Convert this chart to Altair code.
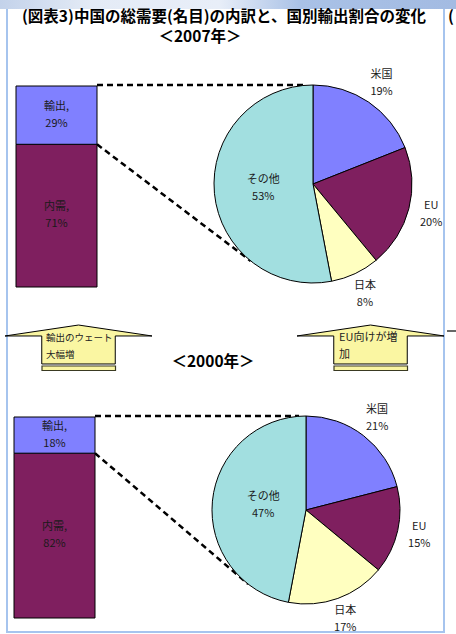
import math

import altair as alt
import pandas as pd

# Breakdown of China's nominal aggregate demand (%)
DEMAND_CATS = ["内需", "輸出"]
DEMAND_2007 = [71, 29]
DEMAND_2000 = [82, 18]

# Export shares by destination (%)
DEST_CATS = ["米国", "EU", "日本", "その他"]
DEST_2007 = [19, 20, 8, 53]
DEST_2000 = [21, 15, 17, 47]

TITLE = "(図表3)中国の総需要(名目)の内訳と、国別輸出割合の変化"
YEAR_LABELS = ["＜2007年＞", "＜2000年＞"]
ARROW_NOTES = ["輸出のウェート\n大幅増", "EU向けが増\n加"]

FONT = "Noto Sans CJK JP"
TEXT_COLOR = "#1a1a1a"
COLOR_SCALE = alt.Scale(
    domain=["輸出", "内需", "米国", "EU", "日本", "その他"],
    range=["#8080ff", "#7f1f5f", "#8080ff", "#7f1f5f", "#ffffc0", "#a2dfe0"],
)
THETA_SCALE = alt.Scale(domain=[0, 100])
FRAME = "#a6c4ee"
ARROW_FILL = "#faf6a2"
LINE_H = 17
# two-line labels: shift up by half a line so the block is centred
TWO_LINE = dict(lineBreak="\n", lineHeight=LINE_H, baseline="middle", dy=-LINE_H / 2)

# Block arrow, drawn in the unit square [-1, 1]
ARROW_PATH = ("M -1 -0.116 L 0 -0.265 L 1 -0.116 L 0.5 -0.116 L 0.5 0.265 "
              "L -0.5 0.265 L -0.5 -0.116 Z")


def one(text):
    return pd.DataFrame({"t": [text]})


def stacked(df):
    return alt.Chart(df).transform_stack(
        stack="share", groupby=[], as_=["s0", "s1"],
        sort=[alt.SortField("ord", order="ascending")],
    ).transform_calculate(mid="(datum.s0 + datum.s1) / 2")


def panel(demand, dest, lay):
    x0, x1 = lay["bar_x"]
    top, bottom = lay["bar_y"]
    cx, cy = lay["pie"]
    r = lay["r"]
    yscale = alt.Scale(domain=[0, 100], range=[bottom, top])

    bar_df = pd.DataFrame({"cat": DEMAND_CATS, "share": demand, "ord": list(range(len(demand)))})
    bar_df["label"] = [f"{c},\n{v}%" for c, v in zip(DEMAND_CATS, demand)]
    pie_df = pd.DataFrame({"cat": DEST_CATS, "share": dest, "ord": list(range(len(dest)))})
    pie_df["label"] = [f"{c}\n{v}%" for c, v in zip(DEST_CATS, dest)]

    # connector lines from the export segment to the pie
    export_share = demand[DEMAND_CATS.index("輸出")]
    split_y = top + export_share / 100 * (bottom - top)
    a = math.radians(lay["conn_angle"])
    ex, ey = cx + r * math.sin(a), cy - r * math.cos(a)
    dash = dict(color="black", strokeWidth=2.5, strokeDash=[6, 4])
    conn_top = alt.Chart(one("")).mark_rule(**dash).encode(
        x=alt.value(x1), x2=alt.value(cx - 7), y=alt.value(top - 1), y2=alt.value(top - 1))
    conn_diag = alt.Chart(one("")).mark_rule(**dash).encode(
        x=alt.value(x1), x2=alt.value(ex), y=alt.value(split_y), y2=alt.value(ey))

    bars = stacked(bar_df).mark_rect(stroke="black", strokeWidth=1).encode(
        x=alt.value(x0), x2=alt.value(x1),
        y=alt.Y("s0:Q", scale=yscale, axis=None), y2="s1:Q",
        color=alt.Color("cat:N", scale=COLOR_SCALE, legend=None),
    )
    bar_text = stacked(bar_df).mark_text(
        font=FONT, fontSize=11, color=TEXT_COLOR, **TWO_LINE
    ).encode(
        x=alt.value((x0 + x1) / 2),
        y=alt.Y("mid:Q", scale=yscale, axis=None),
        text="label:N",
    )

    arcs = stacked(pie_df).mark_arc(radius=r, stroke="black", strokeWidth=1).encode(
        theta=alt.Theta("s0:Q", scale=THETA_SCALE, stack=False), theta2="s1:Q",
        color=alt.Color("cat:N", scale=COLOR_SCALE, legend=None),
        x=alt.value(cx), y=alt.value(cy),
    )
    txt = dict(font=FONT, fontSize=11, color=TEXT_COLOR, **TWO_LINE)
    outer = stacked(pie_df).transform_filter(alt.datum.cat != "その他").mark_text(
        radius=lay["label_r"], **txt).encode(
        theta=alt.Theta("mid:Q", scale=THETA_SCALE, stack=False), text="label:N",
        x=alt.value(cx), y=alt.value(cy))
    inner = stacked(pie_df).transform_filter(alt.datum.cat == "その他").mark_text(
        radius=lay["inner_r"], **txt).encode(
        theta=alt.Theta("mid:Q", scale=THETA_SCALE, stack=False), text="label:N",
        x=alt.value(cx), y=alt.value(cy))

    return [conn_top, conn_diag, bars, bar_text, arcs, outer, inner]


L2007 = dict(bar_x=(16, 97), bar_y=(86, 287), pie=(313, 184), r=99,
             label_r=122, inner_r=50, conn_angle=219)
L2000 = dict(bar_x=(14, 95), bar_y=(417, 618), pie=(306, 510), r=94,
             label_r=116, inner_r=43, conn_angle=218)

# window chrome: gradient band and light frame
band = alt.Chart(one("")).mark_rect(
    color=alt.LinearGradient(
        gradient="linear", x1=0, x2=1, y1=0, y2=0,
        stops=[alt.GradientStop(color="#c3d2ea", offset=0),
               alt.GradientStop(color="#e4ebf6", offset=0.2),
               alt.GradientStop(color="#e8eef8", offset=0.48),
               alt.GradientStop(color="#a9c1e6", offset=0.66),
               alt.GradientStop(color="#a3bbe2", offset=1)])
).encode(x=alt.value(0), x2=alt.value(456), y=alt.value(0), y2=alt.value(9))

frame_rule = dict(color=FRAME, strokeWidth=2)
frame = [
    alt.Chart(one("")).mark_rule(**frame_rule).encode(
        x=alt.value(7), x2=alt.value(7), y=alt.value(9), y2=alt.value(633)),
    alt.Chart(one("")).mark_rule(**frame_rule).encode(
        x=alt.value(444), x2=alt.value(444), y=alt.value(9), y2=alt.value(633)),
    alt.Chart(one("")).mark_rule(**frame_rule).encode(
        x=alt.value(7), x2=alt.value(444), y=alt.value(632), y2=alt.value(632)),
]

title = alt.Chart(one(TITLE)).mark_text(
    font=FONT, fontSize=15.5, fontWeight="bold", color="black", baseline="middle"
).encode(text="t:N", x=alt.value(224), y=alt.value(17))
next_paren = alt.Chart(one("(")).mark_text(
    font=FONT, fontSize=15.5, fontWeight="bold", color="black", align="left", baseline="middle"
).encode(text="t:N", x=alt.value(448), y=alt.value(17))
next_dash = alt.Chart(one("")).mark_rule(color="black", strokeWidth=1.2).encode(
    x=alt.value(447), x2=alt.value(456), y=alt.value(331), y2=alt.value(331))

year_pos = [(200, 37), (213, 362)]
years = [
    alt.Chart(one(t)).mark_text(
        font=FONT, fontSize=15.5, fontWeight="bold", color="black", baseline="middle"
    ).encode(text="t:N", x=alt.value(px), y=alt.value(py))
    for t, (px, py) in zip(YEAR_LABELS, year_pos)
]

arrow_pos = [(78.5, 344.5, 46, 9.5), (370.5, 344.5, 339, 11)]
arrows = []
for note, (ax, ay, tx, fs) in zip(ARROW_NOTES, arrow_pos):
    arrows.append(alt.Chart(one(note)).mark_rect(
        fill=ARROW_FILL, stroke="#3a3a22", strokeWidth=1.2).encode(
        x=alt.value(ax - 36.5), x2=alt.value(ax + 37), y=alt.value(366), y2=alt.value(370.5)))
    arrows.append(alt.Chart(one(note)).mark_point(
        shape=ARROW_PATH, size=147 ** 2, filled=True, fill=ARROW_FILL,
        stroke="black", strokeWidth=1, opacity=1).encode(
        x=alt.value(ax), y=alt.value(ay)))
    arrows.append(alt.Chart(one(note)).mark_text(
        font=FONT, fontSize=fs, color="#222222", align="left", **TWO_LINE).encode(
        text="t:N", x=alt.value(tx), y=alt.value(346.5)))

layers = ([band] + frame + panel(DEMAND_2007, DEST_2007, L2007)
          + panel(DEMAND_2000, DEST_2000, L2000)
          + arrows + years + [title, next_paren, next_dash])

chart = alt.layer(*layers).resolve_scale(y="independent").properties(
    width=456, height=634, autosize=alt.AutoSizeParams(type="none"),
    padding=0, background="white",
).configure_view(stroke=None)

chart.save("out.html", embed_options={"renderer": "svg", "actions": False})
